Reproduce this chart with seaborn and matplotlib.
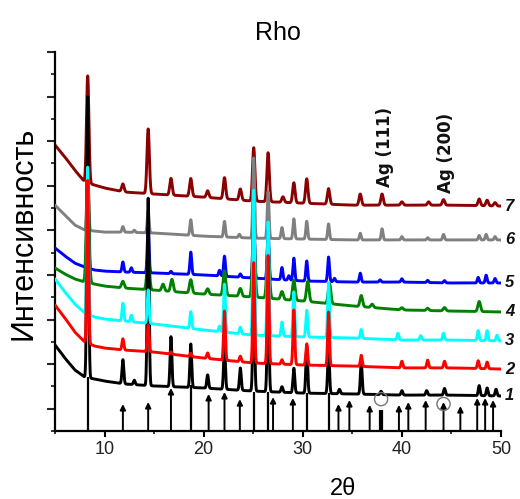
import numpy as np
import pandas as pd
import matplotlib
matplotlib.use("Agg")
import matplotlib.pyplot as plt
import seaborn as sns

# ---------------- data ----------------
base_x = [5, 6, 7, 8, 9, 10, 12, 15, 20, 25, 30, 35, 40, 45, 50]

base_1 = [3.86, 3.27, 2.74, 2.42, 2.33, 2.24, 2.11, 2.02, 1.93, 1.79, 1.70, 1.66, 1.61, 1.61, 1.57]
base_2 = [5.65, 5.07, 4.44, 3.99, 3.81, 3.72, 3.63, 3.54, 3.27, 3.05, 2.96, 2.91, 2.83, 2.83, 2.78]
base_3 = [6.82, 6.23, 5.70, 5.29, 5.11, 5.02, 4.93, 4.80, 4.53, 4.30, 4.22, 4.17, 4.08, 4.08, 4.04]
base_4 = [7.31, 7.04, 6.82, 6.68, 6.59, 6.50, 6.41, 6.32, 6.14, 6.01, 5.83, 5.61, 5.43, 5.38, 5.34]
base_5 = [8.21, 7.85, 7.53, 7.35, 7.22, 7.17, 7.13, 7.09, 7.00, 6.86, 6.73, 6.68, 6.68, 6.64, 6.64]
base_6 = [10.13, 9.69, 9.24, 9.01, 8.97, 8.92, 8.92, 8.88, 8.74, 8.65, 8.61, 8.57, 8.57, 8.57, 8.57]
base_7 = [12.83, 12.29, 11.70, 11.17, 11.03, 10.90, 10.72, 10.63, 10.49, 10.31, 10.22, 10.13, 10.13, 10.13, 10.09]

pk1_x = [8.3, 11.85, 13.0, 14.4, 16.7, 18.7, 20.4, 22.1, 23.7, 25.05, 26.5, 27.9, 29.1, 30.4, 32.6, 33.7, 35.9, 37.9, 40.0, 42.5, 44.3, 47.8, 48.6, 49.5]
pk1_h = [12.6, 1.08, 0.2, 8.4, 2.24, 1.95, 0.6, 1.95, 1.0, 5.0, 5.0, 0.25, 1.1, 2.15, 2.0, 0.2, 1.4, 0.15, 0.2, 0.2, 0.3, 0.45, 0.35, 0.3]

pk2_x = [8.3, 11.85, 14.4, 16.7, 18.7, 20.4, 22.1, 23.7, 25.05, 26.5, 27.9, 29.1, 30.4, 32.6, 35.9, 40.0, 42.6, 44.3, 47.7, 48.6]
pk2_h = [7.3, 0.5, 1.2, 0.1, 0.15, 0.25, 2.2, 0.25, 4.5, 4.85, 0.2, 2.45, 0.95, 2.4, 0.5, 0.3, 0.35, 0.3, 0.35, 0.3]

pk3_x = [8.3, 11.85, 12.7, 14.4, 18.7, 21.6, 22.1, 23.7, 25.05, 26.5, 27.9, 29.1, 30.4, 32.6, 35.9, 39.6, 41.9, 44.2, 47.7, 48.6, 49.6]
pk3_h = [6.6, 0.8, 0.3, 1.5, 0.75, 0.25, 2.15, 0.3, 6.5, 5.1, 0.63, 2.0, 1.2, 2.45, 0.4, 0.3, 0.2, 0.3, 0.45, 0.45, 0.25]

pk4_x = [8.3, 11.85, 14.4, 15.9, 16.8, 18.7, 20.4, 22.1, 23.7, 25.05, 26.5, 27.9, 29.1, 30.5, 32.7, 35.9, 37.0, 40.0, 42.6, 44.3, 47.8]
pk4_h = [5.0, 0.3, 1.5, 0.3, 0.55, 0.6, 0.25, 1.1, 0.35, 3.0, 2.5, 0.35, 0.9, 0.9, 0.9, 0.5, 0.15, 0.1, 0.1, 0.15, 0.45]

pk5_x = [8.3, 11.85, 12.7, 14.4, 16.7, 18.7, 21.6, 22.1, 23.7, 25.05, 26.5, 27.9, 28.6, 29.1, 30.4, 32.6, 33.2, 35.8, 37.8, 40.0, 42.6, 44.3, 47.7, 48.5, 49.4]
pk5_h = [4.0, 0.45, 0.2, 2.0, 0.1, 1.0, 0.25, 0.9, 0.15, 3.0, 2.2, 0.55, 0.2, 1.0, 0.9, 1.1, 0.15, 0.4, 0.1, 0.15, 0.1, 0.1, 0.25, 0.35, 0.2]

pk6_x = [8.3, 11.85, 13.0, 14.4, 18.7, 22.1, 23.6, 25.05, 26.5, 27.9, 29.1, 30.4, 32.6, 35.8, 38.0, 40.0, 42.6, 44.2, 47.8, 48.5, 49.4]
pk6_h = [3.0, 0.25, 0.1, 1.0, 0.7, 0.7, 0.15, 3.6, 2.1, 0.5, 0.9, 0.8, 0.7, 0.3, 0.5, 0.15, 0.1, 0.25, 0.2, 0.25, 0.15]

pk7_x = [8.3, 11.85, 14.4, 16.7, 18.7, 20.4, 22.1, 23.7, 25.05, 26.5, 28.0, 29.1, 30.4, 32.6, 35.8, 38.0, 40.0, 42.7, 44.2, 47.8, 48.6, 49.4]
pk7_h = [4.8, 0.35, 2.9, 0.75, 0.8, 0.3, 0.95, 0.5, 2.4, 2.2, 0.25, 0.9, 1.1, 0.7, 0.5, 0.5, 0.15, 0.15, 0.25, 0.3, 0.25, 0.15]

labels = ["1", "2", "3", "4", "5", "6", "7"]
colors = ["#000000", "#ff0000", "#00ffff", "#008000", "#0000ff", "#808080", "#8b0000"]

# reference stick pattern (positions, tip heights); arrow = 1 draws an arrow head
stick_x = [8.3, 11.85, 14.4, 16.7, 18.7, 20.5, 22.1, 23.65, 25.05, 26.5, 27.0, 29.0, 30.4, 32.6, 33.6, 34.7, 36.75, 37.8, 38.0, 39.7, 40.65, 42.4, 44.2, 45.9, 47.6, 48.4, 49.2]
stick_h = [2.4, 1.21, 1.30, 1.93, 2.06, 1.66, 1.75, 1.43, 1.75, 1.75, 1.52, 1.48, 1.70, 1.70, 1.21, 1.39, 1.17, 0.94, 0.94, 1.17, 1.30, 1.39, 1.30, 1.12, 1.48, 1.48, 1.39]
stick_arrow = [0, 1, 1, 1, 0, 1, 1, 1, 0, 0, 1, 1, 0, 0, 1, 1, 1, 0, 0, 1, 1, 1, 1, 1, 1, 1, 1]

ag_x = [37.9, 44.2]
ag_y = [1.43, 1.21]
ag_text = ["Ag (111)", "Ag (200)"]

bases = [base_1, base_2, base_3, base_4, base_5, base_6, base_7]
pks_x = [pk1_x, pk2_x, pk3_x, pk4_x, pk5_x, pk6_x, pk7_x]
pks_h = [pk1_h, pk2_h, pk3_h, pk4_h, pk5_h, pk6_h, pk7_h]
widths = [0.09, 0.09, 0.09, 0.13, 0.09, 0.09, 0.12]
zorders = [6, 8, 7, 5, 4, 3, 2]

# ---------------- figure ----------------
sns.set_theme(style="white")
plt.rcParams['font.family'] = ['Liberation Sans', 'DejaVu Sans']
plt.rcParams['text.color'] = 'black'
plt.rcParams['axes.labelcolor'] = 'black'

fig = plt.figure(figsize=(5.2, 4.99), dpi=100)
ax = fig.add_axes([55/520, 1-431/499, (501-55)/520, (431-52)/499])

grid = np.arange(5.0, 50.0001, 0.01)
for i in range(7):
    y = np.interp(grid, base_x, bases[i])
    for px, ph in zip(pks_x[i], pks_h[i]):
        y = y + ph * np.exp(-0.5 * ((grid - px) / widths[i]) ** 2)
    df = pd.DataFrame({"two_theta": grid, "I": y})
    sns.lineplot(data=df, x="two_theta", y="I", ax=ax, color=colors[i],
                 lw=2.1, sort=False, estimator=None, zorder=zorders[i])
    ax.text(50.4, bases[i][-1], labels[i], fontsize=12, fontweight='bold',
            fontstyle='italic', ha='left', va='center', clip_on=False, color='#111111')

# stick pattern
for sx, sh, sa in zip(stick_x, stick_h, stick_arrow):
    if sa:
        ax.annotate('', xy=(sx, sh), xytext=(sx, 0),
                    arrowprops=dict(arrowstyle='-|>', lw=1.4, color='black',
                                    mutation_scale=8, shrinkA=0, shrinkB=0),
                    zorder=5.5)
    else:
        ax.vlines(sx, 0, sh, colors='black', lw=1.6, zorder=5.5)

sns.scatterplot(x=ag_x, y=ag_y, ax=ax, s=90, facecolors='none',
                edgecolor='#777777', linewidth=1.0, zorder=9)

ax.text(38.3, 10.94, ag_text[0], rotation=90, ha='center', va='bottom',
        fontsize=12, fontweight='bold', family='DejaVu Sans', color='#111111')
ax.text(44.5, 10.67, ag_text[1], rotation=90, ha='center', va='bottom',
        fontsize=12, fontweight='bold', family='DejaVu Sans', color='#111111')

ax.set_xlim(5, 50)
ax.set_ylim(0, 17)
ax.set_xticks([10, 20, 30, 40, 50])
ax.set_xticks([5, 15, 25, 35, 45], minor=True)
ax.set_yticks([1, 3, 5, 7, 9, 11, 13, 15, 17])
ax.set_yticks([0, 2, 4, 6, 8, 10, 12, 14, 16], minor=True)
ax.set_yticklabels([])
ax.tick_params(axis='x', which='major', direction='out', length=4.5, width=1.5,
               labelsize=13, colors='black', labelcolor='#222222', bottom=True, pad=3)
ax.tick_params(axis='x', which='minor', direction='out', length=2.5, width=1.3, bottom=True)
ax.tick_params(axis='y', which='major', direction='out', length=5.5, width=1.5, left=True)
ax.tick_params(axis='y', which='minor', direction='out', length=3, width=1.3, left=True)

for s in ['top', 'right']:
    ax.spines[s].set_visible(False)
for s in ['left', 'bottom']:
    ax.spines[s].set_color('black')
    ax.spines[s].set_linewidth(1.6)

ax.set_title('Rho', fontsize=18, pad=9, color='black')
ax.set_xlabel('2θ', fontsize=17)
ax.set_ylabel('Интенсивность', fontsize=22)
ax.xaxis.set_label_coords((343-55)/446, (431-489)/379)
ax.xaxis.label.set_va('center')
ax.yaxis.set_label_coords((23-55)/446, (431-233)/379)
ax.yaxis.label.set_va('center')

fig.savefig('out.png', dpi=100)
